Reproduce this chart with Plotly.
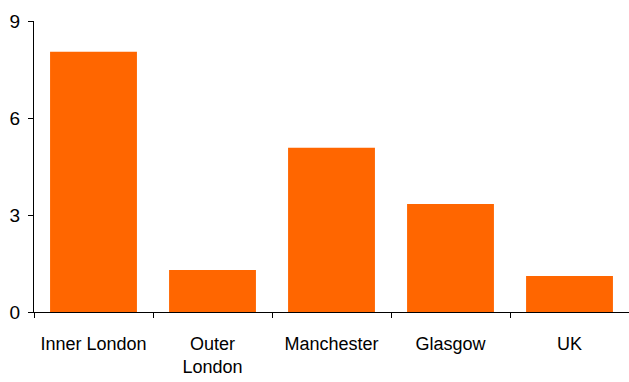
import plotly.graph_objects as go

# Categories and bar values
regions = ["Inner London", "Outer<br>London", "Manchester", "Glasgow", "UK"]
values = [8.05, 1.3, 5.08, 3.34, 1.11]
y_ticks = [0, 3, 6, 9]

fig = go.Figure(
    go.Bar(
        x=regions,
        y=values,
        marker=dict(color="#FF6600", line=dict(width=0)),
    )
)

font_family = "Liberation Sans, Arial, sans-serif"

fig.update_layout(
    width=629,
    height=382,
    margin=dict(l=34, r=0, t=21, b=70),
    paper_bgcolor="white",
    plot_bgcolor="white",
    bargap=0.27,
    showlegend=False,
    font=dict(family=font_family, size=18, color="black"),
)

fig.update_xaxes(
    type="category",
    showline=True,
    linecolor="black",
    linewidth=1,
    ticks="outside",
    tickson="boundaries",
    ticklen=5,
    tickcolor="black",
    showgrid=False,
    tickfont=dict(size=18, color="black"),
    ticklabelstandoff=15,
)

fig.update_yaxes(
    range=[0, 9],
    tickvals=y_ticks,
    showline=True,
    linecolor="black",
    linewidth=1,
    ticks="outside",
    ticklen=5,
    tickcolor="black",
    showgrid=False,
    zeroline=False,
    tickfont=dict(size=19, color="black"),
    ticklabelstandoff=4,
)

fig.write_html("out.html")
